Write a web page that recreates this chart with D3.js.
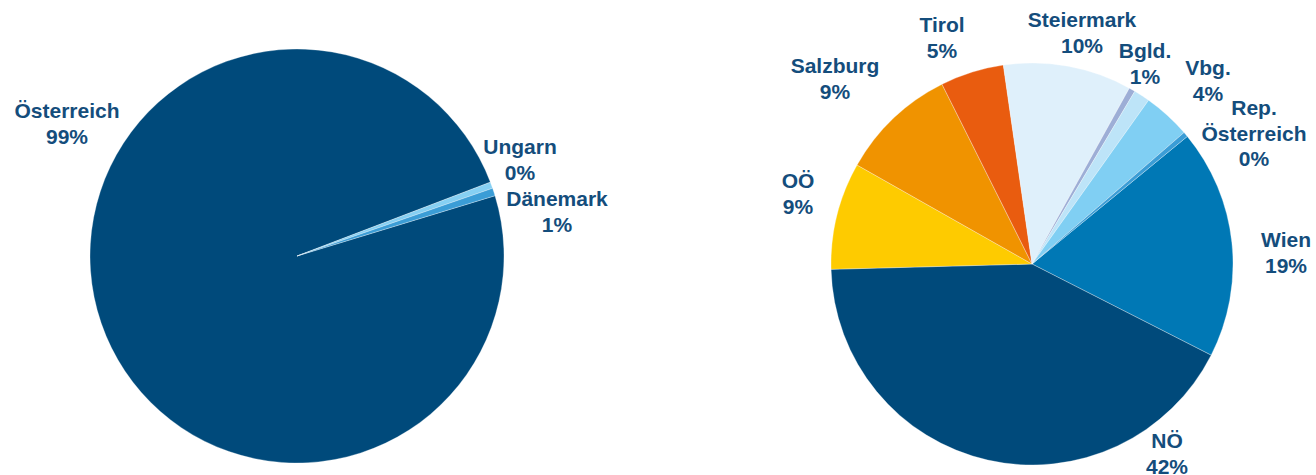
<!DOCTYPE html>
<html>
<head>
<meta charset="utf-8">
<script src="https://cdn.jsdelivr.net/npm/d3@7"></script>
<style>
  body { margin: 0; background: #fff; }
  svg text { font-family: "Liberation Sans", Arial, sans-serif; font-weight: bold; }
</style>
</head>
<body>
<svg id="chart" width="1316" height="475"></svg>
<script>
// left pie: origin by country (percent)
const countries = ["Österreich", "Ungarn", "Dänemark"];
const countryShares = [98.9, 0.5, 0.6];
const countryLabels = ["99%", "0%", "1%"];
const countryColors = ["#004a7b", "#86d0f3", "#3b9dd6"];

// right pie: by federal state (percent), clockwise from Wien
const states = ["Wien", "NÖ", "OÖ", "Salzburg", "Tirol", "Steiermark", "Bgld.", "Kärnten", "Vbg.", "Rep. Österreich"];
const stateShares = [18.4, 42.0, 8.6, 9.4, 5.1, 10.3, 0.5, 1.3, 3.8, 0.4];
const stateLabels = ["19%", "42%", "9%", "9%", "5%", "10%", "1%", "", "4%", "0%"];
const stateColors = ["#0078b5", "#004a7b", "#fecb00", "#f09300", "#e95c0f", "#dff0fb", "#9daed6", "#bde4f8", "#80cff3", "#3b9dd6"];

const textColor = "#144d7c";
const svg = d3.select("#chart");

// label anchors relative to the pie centre (layout only)
const leftLabelPos = {
  "Österreich": [-230, -138],
  "Ungarn": [223, -102],
  "Dänemark": [260, -50]
};
const rightLabelPos = {
  "Wien": [254, -17],
  "NÖ": [135, 184],
  "OÖ": [-234, -76],
  "Salzburg": [-197, -191],
  "Tirol": [-90, -232],
  "Steiermark": [50, -237],
  "Bgld.": [113, -206],
  "Vbg.": [176, -189],
  "Rep. Österreich": [222, -149]
};

function drawPie(cfg) {
  const g = svg.append("g").attr("transform", `translate(${cfg.cx},${cfg.cy})`);
  const total = d3.sum(cfg.values);
  const pie = d3.pie().sort(null)
    .startAngle(cfg.start * Math.PI / 180)
    .endAngle(cfg.start * Math.PI / 180 + 2 * Math.PI);
  const arcs = pie(cfg.values.map(v => v / total));
  const arc = d3.arc().innerRadius(0).outerRadius(cfg.r);

  g.selectAll("path")
    .data(arcs)
    .enter()
    .append("path")
    .attr("d", arc)
    .style("fill", (d, i) => cfg.colors[i])
    .style("stroke", "#fff")
    .style("stroke-width", 0.3);

  cfg.names.forEach((name, i) => {
    const pos = cfg.labelPos[name];
    if (!pos || cfg.labels[i] === "") return;
    const lines = name === "Rep. Österreich" ? ["Rep.", "Österreich", cfg.labels[i]] : [name, cfg.labels[i]];
    const t = g.append("text")
      .attr("x", pos[0])
      .attr("y", pos[1])
      .style("font-size", "21px")
      .style("text-anchor", "middle")
      .style("fill", textColor);
    lines.forEach((ln, k) => {
      t.append("tspan").attr("x", pos[0]).attr("dy", k === 0 ? 0 : 25.5).text(ln);
    });
  });
}

drawPie({
  cx: 297, cy: 256, r: 207, start: 69.1 - 360 * 98.9 / 100,
  names: countries, values: countryShares, labels: countryLabels,
  colors: countryColors, labelPos: leftLabelPos
});

// Wien begins at ~50.6° clockwise from 12 o'clock
drawPie({
  cx: 1032, cy: 264, r: 201, start: 50.6,
  names: states, values: stateShares, labels: stateLabels,
  colors: stateColors, labelPos: rightLabelPos
});
</script>
</body>
</html>
